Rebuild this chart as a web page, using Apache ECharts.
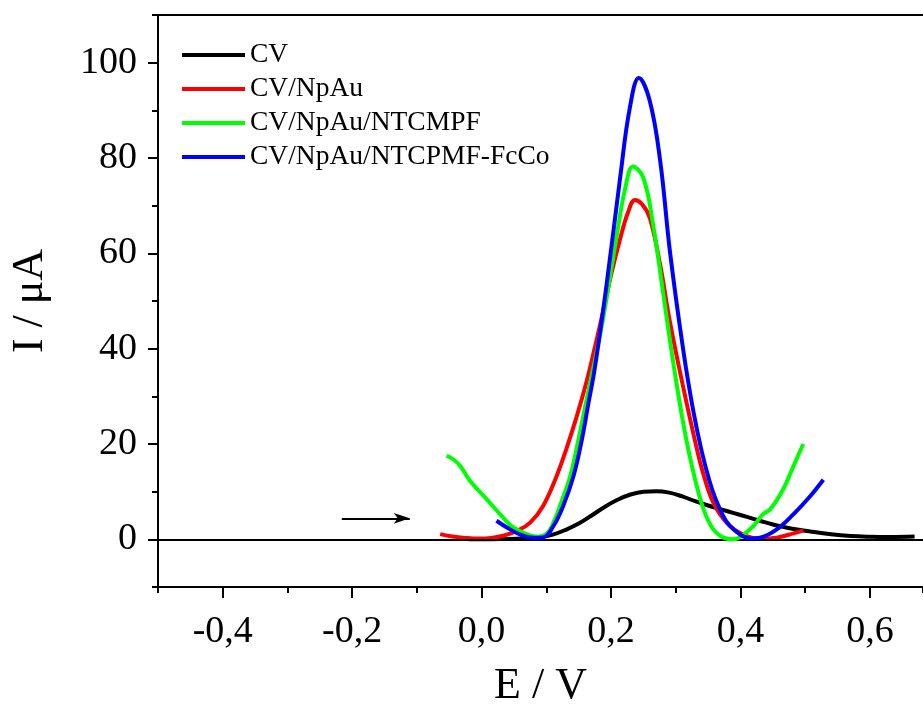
<!DOCTYPE html>
<html>
<head>
<meta charset="utf-8">
<script src="https://cdn.jsdelivr.net/npm/echarts@6/dist/echarts.min.js"></script>
<style>html,body{margin:0;padding:0;background:#fff;}#c{width:923px;height:704px;}</style>
</head>
<body>
<div id="c"></div>
<script>
const seriesNames = ['CV', 'CV/NpAu', 'CV/NpAu/NTCMPF', 'CV/NpAu/NTCPMF-FcCo'];
const seriesColors = ['#000000', '#ff0000', '#00ff00', '#0000ff'];

const cvE = [-0.02, 0.0, 0.03, 0.06, 0.09, 0.11, 0.13, 0.15, 0.17, 0.19, 0.21, 0.23, 0.25, 0.27, 0.29, 0.31, 0.33, 0.35, 0.37, 0.39, 0.41, 0.43, 0.45, 0.47, 0.49, 0.51, 0.54, 0.57, 0.60, 0.63, 0.669];
const cvI = [0.0, 0.0, 0.05, 0.2, 0.5, 1.0, 2.0, 3.3, 5.0, 6.8, 8.3, 9.4, 10.0, 10.1, 9.8, 9.0, 8.0, 7.1, 6.3, 5.5, 4.7, 3.9, 3.1, 2.5, 2.0, 1.6, 1.05, 0.7, 0.55, 0.5, 0.6];

const npauE = [-0.064, -0.045, -0.025, -0.005, 0.015, 0.035, 0.055, 0.075, 0.095, 0.116, 0.131, 0.147, 0.162, 0.175, 0.188, 0.201, 0.214, 0.226, 0.237, 0.248, 0.26, 0.276, 0.291, 0.312, 0.33, 0.342, 0.358, 0.38, 0.404, 0.43, 0.456, 0.482, 0.497];
const npauI = [1.1, 0.6, 0.3, 0.15, 0.3, 0.8, 1.8, 3.5, 7.0, 13.3, 19.0, 25.8, 33.0, 40.3, 48.0, 56.0, 63.0, 68.5, 71.2, 70.3, 67.4, 57.5, 45.6, 31.6, 20.5, 14.0, 7.7, 3.3, 1.0, 0.1, 0.35, 1.26, 1.9];

const ntcmpfE = [-0.054, -0.044, -0.033, -0.018, 0.008, 0.033, 0.049, 0.071, 0.086, 0.101, 0.111, 0.121, 0.137, 0.149, 0.161, 0.175, 0.188, 0.209, 0.222, 0.234, 0.250, 0.265, 0.281, 0.296, 0.312, 0.327, 0.343, 0.358, 0.374, 0.389, 0.402, 0.420, 0.435, 0.446, 0.466, 0.482, 0.497];
const ntcmpfI = [17.5, 16.8, 15.4, 12.3, 8.4, 4.6, 2.5, 1.05, 0.56, 1.2, 3.5, 7.0, 13.3, 20.5, 28.5, 37.5, 46.5, 63.9, 73.7, 78.2, 75.8, 66.0, 51.2, 37.2, 24.0, 14.2, 6.3, 2.1, 0.35, 0.0, 0.7, 2.8, 5.3, 6.3, 10.5, 15.4, 20.0];

const fccoE = [0.023, 0.039, 0.059, 0.080, 0.095, 0.111, 0.126, 0.142, 0.155, 0.165, 0.175, 0.193, 0.214, 0.229, 0.243, 0.260, 0.276, 0.291, 0.312, 0.327, 0.340, 0.352, 0.363, 0.379, 0.399, 0.415, 0.430, 0.456, 0.482, 0.508, 0.528];
const fccoI = [3.9, 2.5, 1.05, 0.35, 0.4, 2.8, 7.0, 13.3, 21.0, 28.5, 36.0, 53.3, 75.8, 90.5, 96.8, 91.9, 79.3, 60.4, 39.3, 27.0, 18.5, 12.3, 8.0, 3.6, 1.05, 0.2, 0.35, 2.1, 5.3, 9.1, 12.5];

const arrowStart = [-0.216, 4.4];
const arrowEnd = [-0.111, 4.4];

const xMajorTicks = [-0.4, -0.2, 0.0, 0.2, 0.4, 0.6];
const yMajorTicks = [0, 20, 40, 60, 80, 100];

const allE = [cvE, npauE, ntcmpfE, fccoE];
const allI = [cvI, npauI, ntcmpfI, fccoI];

const FONT = 'Liberation Serif';
const xMin = -0.5, xMax = 0.682, yMin = -10, yMax = 110;

const series = seriesNames.map((name, k) => ({
  name: name,
  type: 'line',
  xAxisIndex: 0,
  yAxisIndex: 0,
  data: allE[k].map((e, i) => [e, allI[k][i]]),
  smooth: 0.4,
  showSymbol: false,
  symbol: 'none',
  lineStyle: { color: seriesColors[k], width: 4 },
  itemStyle: { color: seriesColors[k] },
  z: 3 + k
}));

series.unshift({
  name: '_ref',
  type: 'line',
  data: [],
  xAxisIndex: 0,
  yAxisIndex: 0,
  silent: true,
  markLine: {
    silent: true,
    animation: false,
    label: { show: false },
    data: [
      [{ coord: [xMin, 0], symbol: 'none' }, { coord: [xMax, 0], symbol: 'none' }],
      [{ coord: arrowStart, symbol: 'none' }, { coord: arrowEnd, symbol: 'arrow', symbolSize: [8, 16] }]
    ],
    lineStyle: { color: '#000', width: 2, type: 'solid' }
  },
  z: 2
});

const chart = echarts.init(document.getElementById('c'), null, { renderer: 'canvas' });
chart.setOption({
  animation: false,
  backgroundColor: '#ffffff',
  grid: { left: 158, right: 0, top: 15, bottom: 117, containLabel: false, outerBoundsMode: 'none' },
  legend: {
    data: seriesNames,
    orient: 'vertical',
    left: 182,
    top: 41,
    padding: 0,
    itemWidth: 63,
    itemHeight: 4,
    itemGap: 6,
    icon: 'rect',
    textStyle: { fontFamily: FONT, fontSize: 27.5, color: '#000' }
  },
  xAxis: [
    {
      type: 'value', position: 'bottom', min: xMin, max: xMax, interval: 0.1,
      name: 'E / V', nameLocation: 'middle', nameGap: 77,
      nameTextStyle: { fontFamily: FONT, fontSize: 44, color: '#000' },
      axisLine: { show: true, onZero: false, lineStyle: { color: '#000', width: 2 } },
      axisTick: { show: true, inside: false, length: 6, lineStyle: { color: '#000', width: 2 } },
      axisLabel: {
        show: true, customValues: xMajorTicks, margin: 26,
        fontFamily: FONT, fontSize: 38, color: '#000',
        formatter: v => v.toFixed(1).replace('.', ',')
      },
      splitLine: { show: false }
    },
    {
      type: 'value', position: 'bottom', min: xMin, max: xMax,
      axisLine: { show: false, onZero: false },
      axisTick: { show: true, customValues: xMajorTicks, length: 11, lineStyle: { color: '#000', width: 2 } },
      axisLabel: { show: false },
      splitLine: { show: false }
    },
    {
      type: 'value', position: 'top', min: xMin, max: xMax,
      axisLine: { show: true, onZero: false, lineStyle: { color: '#000', width: 2 } },
      axisTick: { show: false },
      axisLabel: { show: false },
      splitLine: { show: false }
    }
  ],
  yAxis: [
    {
      type: 'value', position: 'left', min: yMin, max: yMax, interval: 10,
      name: 'I / μA', nameLocation: 'middle', nameGap: 106, nameRotate: 90,
      nameTextStyle: { fontFamily: FONT, fontSize: 44, color: '#000' },
      axisLine: { show: true, onZero: false, lineStyle: { color: '#000', width: 2 } },
      axisTick: { show: true, inside: false, length: 6, lineStyle: { color: '#000', width: 2 } },
      axisLabel: {
        show: true, customValues: yMajorTicks, margin: 21,
        fontFamily: FONT, fontSize: 38, color: '#000',
        formatter: v => String(Math.round(v))
      },
      splitLine: { show: false }
    },
    {
      type: 'value', position: 'left', min: yMin, max: yMax,
      axisLine: { show: false, onZero: false },
      axisTick: { show: true, customValues: yMajorTicks, length: 10, lineStyle: { color: '#000', width: 2 } },
      axisLabel: { show: false },
      splitLine: { show: false }
    }
  ],
  series: series
});
</script>
</body>
</html>
